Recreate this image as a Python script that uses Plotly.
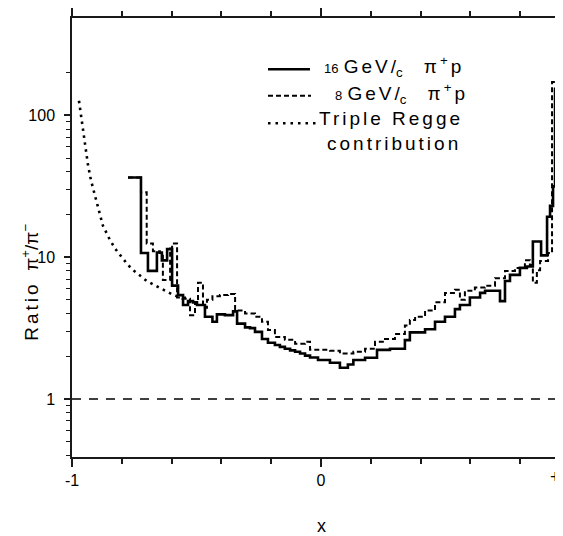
import plotly.graph_objects as go

# ---- data ----
edges_16 = [-0.775, -0.723, -0.695, -0.659, -0.639, -0.618, -0.598, -0.574, -0.554, -0.534,
            -0.514, -0.498, -0.466, -0.436, -0.418, -0.386, -0.353, -0.337, -0.305, -0.285,
            -0.265, -0.237, -0.213, -0.185, -0.165, -0.145, -0.124, -0.104, -0.084, -0.064,
            -0.044, -0.012, 0.036, 0.076, 0.108, 0.13, 0.177, 0.225, 0.277, 0.337,
            0.357, 0.418, 0.458, 0.498, 0.538, 0.558, 0.598, 0.639, 0.659, 0.719,
            0.739, 0.759, 0.799, 0.827, 0.851, 0.884, 0.908, 0.920, 0.932, 0.940, 1.0]
ratio_16 = [36.5, 10.7, 8.0, 10.8, 9.5, 11.4, 6.3, 5.4, 4.6, 4.9,
            4.8, 4.6, 3.8, 3.5, 3.95, 3.9, 4.15, 3.4, 3.2, 3.16,
            2.97, 2.65, 2.49, 2.4, 2.33, 2.26, 2.2, 2.15, 2.09, 2.02,
            1.96, 1.88, 1.8, 1.66, 1.75, 1.88, 1.95, 2.22, 2.26, 2.6,
            2.95, 3.1, 3.5, 3.8, 4.3, 4.6, 5.2, 5.6, 5.8, 4.9,
            6.8, 7.5, 8.4, 8.6, 12.9, 10.3, 19.3, 23.0, 31.6, 154]

edges_8 = [-0.775, -0.723, -0.700, -0.675, -0.647, -0.635, -0.606, -0.598, -0.578, -0.546,
           -0.526, -0.506, -0.494, -0.474, -0.458, -0.436, -0.406, -0.373, -0.345, -0.305,
           -0.265, -0.237, -0.213, -0.185, -0.145, -0.104, -0.064, -0.044, 0.036, 0.076,
           0.13, 0.177, 0.217, 0.257, 0.297, 0.337, 0.357, 0.378, 0.418, 0.458,
           0.498, 0.538, 0.558, 0.578, 0.618, 0.659, 0.699, 0.739, 0.779, 0.819,
           0.839, 0.851, 0.867, 0.880, 0.912, 0.928, 1.0]
ratio_8 = [36.5, 28.7, 12.5, 11.0, 10.7, 6.9, 11.5, 12.5, 5.2, 5.1,
           3.9, 4.8, 6.6, 4.4, 5.0, 5.3, 5.4, 5.5, 4.2, 4.0,
           3.8, 3.5, 3.06, 2.74, 2.61, 2.45, 2.53, 2.22, 2.19, 2.09,
           2.15, 2.26, 2.53, 2.65, 2.87, 3.3, 3.6, 3.8, 4.2, 4.8,
           5.6, 5.9, 5.0, 5.8, 6.1, 6.3, 7.1, 8.0, 8.4, 9.5,
           8.8, 6.6, 8.1, 9.4, 10.7, 172]

regge_x = [-0.972, -0.960, -0.948, -0.936, -0.924, -0.90, -0.876, -0.85, -0.827, -0.80,
           -0.775, -0.75, -0.727, -0.70, -0.65, -0.60, -0.55, -0.52]
regge_y = [127, 89, 59, 45, 35, 24, 16.7, 13.5, 11.5, 10.0,
           8.8, 8.0, 7.4, 6.8, 6.1, 5.5, 5.05, 4.8]

x_major = [-1, 0]
x_major_text = ["-1", "0"]
x_minor = [-0.8, -0.6, -0.4, -0.2, 0.2, 0.4, 0.6, 0.8, 1.0]
y_major = [1, 10, 100]
y_major_text = ["1", "10", "100"]
y_minor = [0.4, 0.5, 0.6, 0.7, 0.8, 0.9, 2, 3, 4, 5, 6, 7, 8, 9,
           20, 30, 40, 50, 60, 70, 80, 90, 200]

# ---- figure (page has an 8px body margin) ----
OFF = 8
W, H = 555, 528
L, R, T, B = 64, 0, 3, 79
X_RANGE = [-1, 0.972]
Y_RANGE = [-0.4097, 2.6875]
FONT = "Liberation Sans, Arial, sans-serif"
INK = "#1a1a1a"

fig = go.Figure()
fig.add_trace(go.Scatter(x=regge_x, y=regge_y, mode="lines",
                         line=dict(color="black", width=2.6, dash="2.5px,4.5px"),
                         showlegend=False, hoverinfo="skip"))
fig.add_trace(go.Scatter(x=edges_8, y=ratio_8 + [ratio_8[-1]], mode="lines",
                         line=dict(color="black", width=2.0, shape="hv", dash="5px,3px"),
                         showlegend=False, hoverinfo="skip"))
fig.add_trace(go.Scatter(x=edges_16, y=ratio_16 + [ratio_16[-1]], mode="lines",
                         line=dict(color="black", width=2.6, shape="hv"),
                         showlegend=False, hoverinfo="skip"))

# reference line at ratio 1
fig.add_shape(type="line", xref="x", yref="y", x0=-1, x1=1, y0=1, y1=1,
              line=dict(color="black", width=1.5, dash="9px,8px"))

fig.update_layout(
    width=W, height=H,
    margin=dict(l=L, r=R, t=T, b=B),
    paper_bgcolor="white", plot_bgcolor="white",
    font=dict(family=FONT, color="black", size=16),
    xaxis=dict(range=X_RANGE, tickvals=x_major, ticktext=x_major_text,
               ticks="outside", ticklen=8, tickwidth=1.5, tickcolor=INK,
               minor=dict(tickvals=x_minor, ticks="outside", ticklen=5,
                          tickwidth=1.5, tickcolor=INK, showgrid=False),
               showline=True, linecolor=INK, linewidth=1.5, mirror="ticks",
               showgrid=False, zeroline=False, tickfont=dict(size=16)),
    xaxis2=dict(range=X_RANGE, overlaying="x", tickvals=x_major,
                ticks="inside", ticklen=8, tickwidth=1.5, tickcolor=INK,
                minor=dict(tickvals=x_minor, ticks="inside", ticklen=5,
                           tickwidth=1.5, tickcolor=INK, showgrid=False),
                showline=False, mirror="ticks", showticklabels=False,
                showgrid=False, zeroline=False),
    yaxis=dict(type="log", range=Y_RANGE, tickvals=y_major, ticktext=y_major_text,
               ticks="outside", ticklen=6, tickwidth=1.5, tickcolor=INK,
               minor=dict(tickvals=y_minor, ticks="outside", ticklen=4,
                          tickwidth=1.3, tickcolor=INK, showgrid=False),
               showline=True, linecolor=INK, linewidth=1.5,
               showgrid=False, zeroline=False, tickfont=dict(size=16),
               ticklabelstandoff=6),
    yaxis2=dict(type="log", range=Y_RANGE, overlaying="y", side="left",
                tickvals=y_major, ticks="inside", ticklen=6, tickwidth=1.5, tickcolor=INK,
                minor=dict(tickvals=y_minor, ticks="inside", ticklen=4,
                           tickwidth=1.3, tickcolor=INK, showgrid=False),
                showline=False, showticklabels=False, showgrid=False, zeroline=False),
    yaxis3=dict(type="log", range=Y_RANGE, overlaying="y", side="right",
                tickvals=y_major, ticks="inside", ticklen=6, tickwidth=1.5, tickcolor=INK,
                minor=dict(tickvals=y_minor, ticks="inside", ticklen=4,
                           tickwidth=1.3, tickcolor=INK, showgrid=False),
                showline=False, showticklabels=False, showgrid=False, zeroline=False),
)

pw, ph = W - L - R, H - T - B


def px(xs):
    """screen x (reference pixels) -> paper fraction"""
    return (xs - OFF - L) / pw


def py(ys):
    """screen y (reference pixels) -> paper fraction"""
    return (H - B - (ys - OFF)) / ph


# legend samples
fig.add_shape(type="line", xref="paper", yref="paper", x0=px(268), x1=px(310), y0=py(63), y1=py(63),
              line=dict(color="black", width=2.4))
fig.add_shape(type="line", xref="paper", yref="paper", x0=px(268), x1=px(311), y0=py(90), y1=py(90),
              line=dict(color="black", width=2.0, dash="5px,3px"))
fig.add_shape(type="line", xref="paper", yref="paper", x0=px(268), x1=px(316), y0=py(118), y1=py(118),
              line=dict(color="black", width=2.4, dash="2.5px,5px"))

SP = "<span style='letter-spacing:3px'>{}</span>"
GAP = "&nbsp;&nbsp;&nbsp;&nbsp;"
ann = [
    (322, 60, "<span style='font-size:13px'>16</span>&nbsp;" + SP.format("GeV") + "/<sub>c</sub>"
     + GAP + SP.format("π<sup>+</sup>p")),
    (333, 88, "<span style='font-size:13px'>8</span>&nbsp;" + SP.format("GeV") + "/<sub>c</sub>"
     + GAP + SP.format("π<sup>+</sup>p")),
    (317, 113, SP.format("Triple Regge")),
    (325, 138, SP.format("contribution")),
]
for xs, ys, t in ann:
    fig.add_annotation(text=t, xref="paper", yref="paper", x=px(xs), y=py(ys),
                       xanchor="left", yanchor="middle", showarrow=False,
                       font=dict(family=FONT, size=19, color="black"))

# axis titles and right-end label
fig.add_annotation(text=SP.format("Ratio") + "&nbsp;&nbsp;π<sup>+</sup>/π<sup>−</sup>",
                   xref="paper", yref="paper",
                   x=px(30), y=py(280), textangle=-90, showarrow=False,
                   xanchor="center", yanchor="middle",
                   font=dict(family=FONT, size=19, color="black"))
fig.add_annotation(text="x", xref="paper", yref="paper", x=px(321), y=py(527),
                   showarrow=False, xanchor="center", yanchor="middle",
                   font=dict(family=FONT, size=18, color="black"))
fig.add_annotation(text="+", xref="paper", yref="paper", x=px(555), y=py(477),
                   showarrow=False, xanchor="center", yanchor="middle",
                   font=dict(family=FONT, size=18, color="black"))

fig.write_html("out.html",
               post_script="document.documentElement.style.overflow='hidden';"
                           "document.body.style.overflow='hidden';")
